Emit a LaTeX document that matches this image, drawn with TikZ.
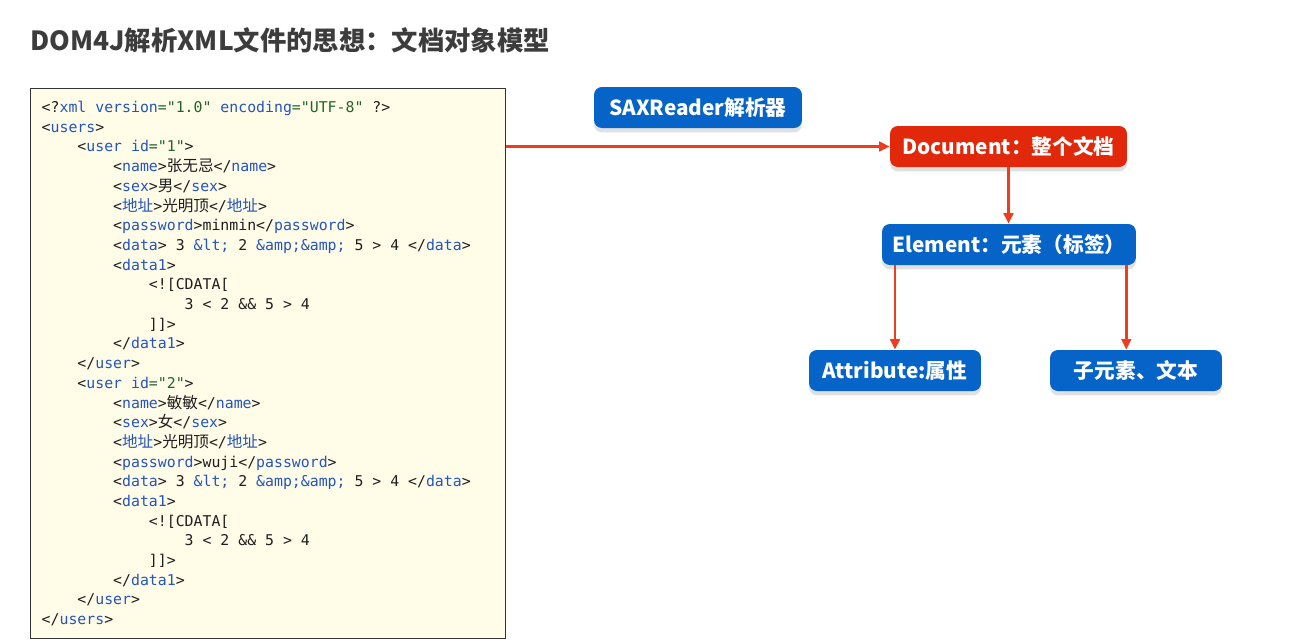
\documentclass[tikz,border=0pt]{standalone}
\usepackage{fontspec}
\setmonofont{DejaVu Sans Mono}
\newfontfamily\cjk{Noto Sans CJK SC}
\newfontfamily\cjkcode{Noto Sans CJK SC}[Scale=1.05]
\usetikzlibrary{arrows.meta,shadows}
\definecolor{boxblue}{RGB}{6,100,200}
\definecolor{boxred}{RGB}{225,40,10}
\definecolor{arrowred}{RGB}{240,60,30}
\definecolor{paper}{RGB}{255,252,232}
\definecolor{tagblue}{RGB}{36,84,190}
\definecolor{valgreen}{RGB}{35,100,45}
\definecolor{codeink}{RGB}{30,30,30}
\definecolor{titlegray}{RGB}{60,60,60}
\newcommand\tg[1]{\textcolor{tagblue}{#1}}
\newcommand\av[1]{\textcolor{valgreen}{#1}}
\newcommand\zh[1]{{\cjkcode #1}}
\newcommand\otag[1]{<\tg{#1}>}
\newcommand\ctag[1]{</\tg{#1}>}
\newcommand\ind[1]{\hspace*{#1\fontcharwd\font`x}}
\begin{document}
\begin{tikzpicture}[x=0.02cm, y=-0.02cm,
    box/.style={rounded corners=4.5pt, fill=boxblue, text=white,
        font=\cjk\bfseries\fontsize{11.8}{14}\selectfont,
        minimum height=0.82cm, inner sep=0pt,
        drop shadow={shadow xshift=0pt, shadow yshift=-2.5pt, fill=black, opacity=0.12}},
    codebox/.style={draw=black!80, line width=0.8pt, fill=paper, text=codeink,
        font=\ttfamily\fontsize{8.45}{11.21}\selectfont, align=left,
        text width=9.06cm, minimum height=11cm, inner xsep=0.22cm},
    link/.style={arrowred, line width=1.4pt, -{Triangle[length=6pt,width=5.5pt]}}]
    \useasboundingbox (0,0) rectangle (1299,643);
    % title
    \node[anchor=west, inner sep=0pt, text=titlegray,
        font=\cjk\bfseries\fontsize{15}{18}\selectfont] (title) at (30,40)
        {DOM4J解析XML文件的思想：文档对象模型};
    % xml file
    \node[codebox, anchor=north west] (xml) at (30,88) {%
        \spaceskip=0pt\xspaceskip=0pt
        <?\tg{xml version}\av{="1.0"} \tg{encoding}\av{="UTF-8"} ?>\\
        <\tg{users}>\\
        \ind4<\tg{user id}\av{="1"}>\\
        \ind8\otag{name}\zh{张无忌}\ctag{name}\\
        \ind8\otag{sex}\zh{男}\ctag{sex}\\
        \ind8\otag{\zh{地址}}\zh{光明顶}\ctag{\zh{地址}}\\
        \ind8\otag{password}minmin\ctag{password}\\
        \ind8\otag{data} 3 \tg{\&lt;} 2 \tg{\&amp;\&amp;} 5 > 4 \ctag{data}\\
        \ind8\otag{data1}\\
        \ind{12}<![CDATA[\\
        \ind{16}3 < 2 \&\& 5 > 4\\
        \ind{12}]]>\\
        \ind8\ctag{data1}\\
        \ind4\ctag{user}\\
        \ind4<\tg{user id}\av{="2"}>\\
        \ind8\otag{name}\zh{敏敏}\ctag{name}\\
        \ind8\otag{sex}\zh{女}\ctag{sex}\\
        \ind8\otag{\zh{地址}}\zh{光明顶}\ctag{\zh{地址}}\\
        \ind8\otag{password}wuji\ctag{password}\\
        \ind8\otag{data} 3 \tg{\&lt;} 2 \tg{\&amp;\&amp;} 5 > 4 \ctag{data}\\
        \ind8\otag{data1}\\
        \ind{12}<![CDATA[\\
        \ind{16}3 < 2 \&\& 5 > 4\\
        \ind{12}]]>\\
        \ind8\ctag{data1}\\
        \ind4\ctag{user}\\
        \ctag{users}};
    % object model
    \node[box, minimum width=4.16cm] (sax) at (698,107.5) {SAXReader解析器};
    \node[box, fill=boxred, minimum width=4.74cm] (doc) at (1008.5,146.5) {Document：整个文档};
    \node[box, minimum width=5.08cm] (elem) at (1009,244.5) {Element：元素（标签）};
    \node[box, minimum width=3.44cm] (attr) at (895,370.5) {Attribute:属性};
    \node[box, minimum width=3.44cm] (sub) at (1136,370.5) {子元素、文本};
    % arrows
    \coordinate (elemr) at ([xshift=-0.2cm]elem.south east);
    \draw[link] (doc.west -| xml.east) -- (doc.west);
    \draw[link] (doc.south) -- (doc.south |- elem.north);
    \draw[link] (attr.north |- elem.south) -- (attr.north);
    \draw[link] (elemr) -- (elemr |- sub.north);
\end{tikzpicture}
\end{document}
